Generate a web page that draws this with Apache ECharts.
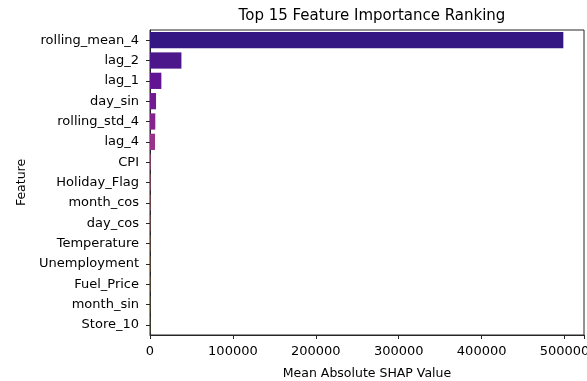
<!DOCTYPE html>
<html>
<head>
<meta charset="utf-8">
<script src="https://cdn.jsdelivr.net/npm/echarts@6/dist/echarts.min.js"></script>
<style>
  html, body { margin: 0; padding: 0; background: #fff; }
  #chart { width: 587px; height: 381px; }
</style>
</head>
<body>
<div id="chart"></div>
<script>
// Feature names, ranked by mean |SHAP| (largest first)
const features = [
  'rolling_mean_4', 'lag_2', 'lag_1', 'day_sin', 'rolling_std_4', 'lag_4',
  'CPI', 'Holiday_Flag', 'month_cos', 'day_cos', 'Temperature',
  'Unemployment', 'Fuel_Price', 'month_sin', 'Store_10'
];
// Mean absolute SHAP value per feature
const shapValues = [
  498500, 37900, 13700, 7300, 6400, 6000,
  800, 600, 500, 400, 350,
  300, 250, 200, 150
];
const xTicks = [0, 100000, 200000, 300000, 400000, 500000];

// Plasma colormap stops, sampled and softened like a seaborn bar palette
const plasmaStops = [
  [13, 8, 135], [65, 4, 157], [106, 0, 168], [143, 13, 164], [177, 42, 144],
  [204, 71, 120], [225, 100, 98], [242, 132, 75], [252, 166, 54], [252, 206, 37],
  [240, 249, 33]
];
function plasma(t) {
  const p = t * (plasmaStops.length - 1);
  const i = Math.min(Math.floor(p), plasmaStops.length - 2);
  const f = p - i;
  return plasmaStops[i].map((c, k) => c + (plasmaStops[i + 1][k] - c) * f);
}
function desaturate(rgb, s) {
  let [r, g, b] = rgb.map(v => v / 255);
  const mx = Math.max(r, g, b), mn = Math.min(r, g, b);
  const l = (mx + mn) / 2;
  if (mx === mn) return rgb;
  const d = mx - mn;
  const sat = l > 0.5 ? d / (2 - mx - mn) : d / (mx + mn);
  let h;
  if (mx === r) h = ((g - b) / d + (g < b ? 6 : 0));
  else if (mx === g) h = (b - r) / d + 2;
  else h = (r - g) / d + 4;
  h /= 6;
  const ns = sat * s;
  const q = l < 0.5 ? l * (1 + ns) : l + ns - l * ns;
  const pp = 2 * l - q;
  const hue2rgb = (t) => {
    if (t < 0) t += 1; if (t > 1) t -= 1;
    if (t < 1 / 6) return pp + (q - pp) * 6 * t;
    if (t < 1 / 2) return q;
    if (t < 2 / 3) return pp + (q - pp) * (2 / 3 - t) * 6;
    return pp;
  };
  return [hue2rgb(h + 1 / 3), hue2rgb(h), hue2rgb(h - 1 / 3)].map(v => Math.round(v * 255));
}
const n = features.length;
const barColors = features.map((_, i) => {
  const c = desaturate(plasma((i + 1) / (n + 1)), 0.75);
  return `rgb(${c[0]},${c[1]},${c[2]})`;
});

const xMax = Math.max(...shapValues) * 1.05;
const FONT = 'DejaVu Sans';

const chart = echarts.init(document.getElementById('chart'), null, { renderer: 'canvas' });
chart.setOption({
  animation: false,
  backgroundColor: '#ffffff',
  title: {
    text: 'Top 15 Feature Importance Ranking',
    left: 367, top: 4, textAlign: 'center',
    textStyle: { fontFamily: FONT, fontSize: 15, fontWeight: 'normal', color: '#000' }
  },
  grid: {
    left: 150, right: 3, top: 30, bottom: 46,
    containLabel: false, outerBoundsMode: 'none',
    show: true, borderColor: '#262626', borderWidth: 1, backgroundColor: 'transparent'
  },
  xAxis: {
    type: 'value', min: 0, max: xMax, interval: 100000,
    name: 'Mean Absolute SHAP Value', nameLocation: 'middle', nameGap: 32,
    nameTextStyle: { fontFamily: FONT, fontSize: 12.5, color: '#000' },
    axisLine: { show: true, lineStyle: { color: '#262626', width: 1 } },
    axisTick: { show: true, length: 4, lineStyle: { color: '#262626' } },
    axisLabel: {
      fontFamily: FONT, fontSize: 13, color: '#000', margin: 10,
      formatter: (v) => (xTicks.includes(v) ? String(v) : '')
    },
    splitLine: { show: false }
  },
  yAxis: {
    type: 'category', data: features, inverse: true,
    name: 'Feature', nameLocation: 'middle', nameGap: 122,
    nameTextStyle: { fontFamily: FONT, fontSize: 12.5, color: '#000' },
    axisLine: { show: true, lineStyle: { color: '#262626', width: 1 } },
    axisTick: { show: true, length: 4, alignWithLabel: true, lineStyle: { color: '#262626' } },
    axisLabel: { fontFamily: FONT, fontSize: 13, color: '#000', margin: 11 },
    splitLine: { show: false }
  },
  series: [{
    type: 'bar',
    data: shapValues.map((v, i) => ({ value: v, itemStyle: { color: barColors[i] } })),
    barCategoryGap: '20%'
  }]
});
</script>
</body>
</html>
